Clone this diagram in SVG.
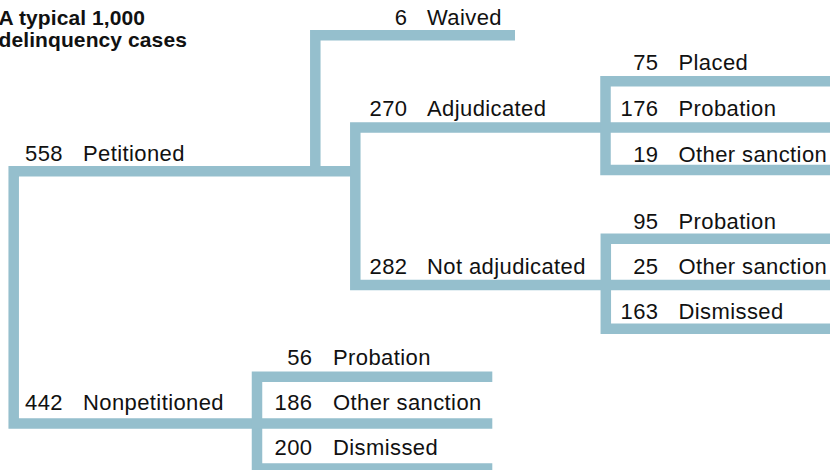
<svg xmlns="http://www.w3.org/2000/svg" width="830" height="470" viewBox="0 0 830 470">
<style>
.ln{fill:none;stroke:#95bfcd;stroke-width:10.5;stroke-linecap:butt;stroke-linejoin:miter}
text{font-family:"Liberation Sans",Arial,Helvetica,sans-serif;font-size:22px;letter-spacing:0.4px;fill:#111}
.n{text-anchor:end}
.t{font-weight:bold;font-size:21px;letter-spacing:0.1px}
</style>
<rect width="830" height="470" fill="#fff"/>
<g id="connectors">
<path class="ln" d="M355.3 171.3H13.7V423.6H257"/>
<path class="ln" d="M315.3 171.3V35.3H515"/>
<path class="ln" d="M830 127.5H355.3V285H830"/>
<path class="ln" d="M830 81.3H605.5V170H830"/>
<path class="ln" d="M830 238.7H605.8V328.7H830"/>
<path class="ln" d="M492.3 376.7H257V468.5H492.3"/>
<path class="ln" d="M257 423.6H492.3"/>
</g>
<g id="title"><text class="t" x="-1.5" y="25">A typical 1,000</text><text class="t" x="-1.5" y="47">delinquency cases</text></g>
<g id="petitioned"><text class="n" x="63" y="161">558</text><text x="83" y="161">Petitioned</text></g>
<g id="waived"><text class="n" x="407.5" y="25">6</text><text x="427" y="25">Waived</text></g>
<g id="adjudicated"><text class="n" x="407.5" y="115.5">270</text><text x="427" y="115.5">Adjudicated</text></g>
<g id="not-adjudicated"><text class="n" x="407.5" y="273.5">282</text><text x="427" y="273.5">Not adjudicated</text></g>
<g id="adj-placed"><text class="n" x="658.5" y="70">75</text><text x="678.5" y="70">Placed</text></g>
<g id="adj-probation"><text class="n" x="658.5" y="116">176</text><text x="678.5" y="116">Probation</text></g>
<g id="adj-other"><text class="n" x="658.5" y="161.5">19</text><text x="678.5" y="161.5">Other sanction</text></g>
<g id="nadj-probation"><text class="n" x="658.5" y="228.5">95</text><text x="678.5" y="228.5">Probation</text></g>
<g id="nadj-other"><text class="n" x="658.5" y="273.5">25</text><text x="678.5" y="273.5">Other sanction</text></g>
<g id="nadj-dismissed"><text class="n" x="658.5" y="319">163</text><text x="678.5" y="319">Dismissed</text></g>
<g id="nonpetitioned"><text class="n" x="63" y="410">442</text><text x="83" y="410">Nonpetitioned</text></g>
<g id="np-probation"><text class="n" x="312.5" y="365">56</text><text x="333" y="365">Probation</text></g>
<g id="np-other"><text class="n" x="312.5" y="410">186</text><text x="333" y="410">Other sanction</text></g>
<g id="np-dismissed"><text class="n" x="312.5" y="455">200</text><text x="333" y="455">Dismissed</text></g>
</svg>
